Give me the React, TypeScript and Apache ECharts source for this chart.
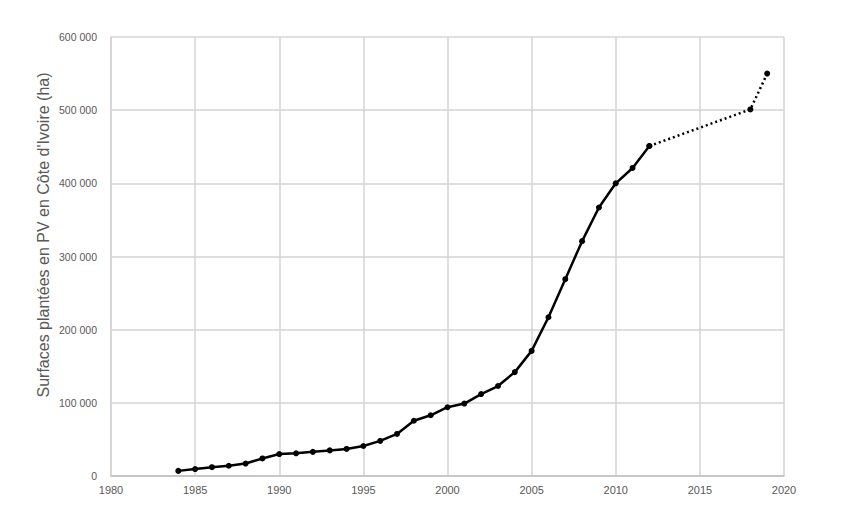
import React, { useEffect, useRef } from "react";
import * as echarts from "echarts";

const years = [1984, 1985, 1986, 1987, 1988, 1989, 1990, 1991, 1992, 1993, 1994, 1995, 1996, 1997, 1998, 1999, 2000, 2001, 2002, 2003, 2004, 2005, 2006, 2007, 2008, 2009, 2010, 2011, 2012];
const surfaces = [7000, 9500, 12000, 14000, 17000, 24000, 30000, 31000, 33000, 35000, 37000, 41000, 48000, 57500, 75500, 83000, 94000, 99000, 112000, 123000, 142000, 171000, 217000, 269000, 321000, 367000, 400000, 421000, 451000];
const projYears = [2012, 2018, 2019];
const projSurfaces = [451000, 501000, 550000];
const yAxisTitle = "Surfaces plantées en PV en Côte d'Ivoire (ha)";

const fmt = (v: number) => {
  if (v === 0) return "0";
  const s = String(v);
  return s.replace(/\B(?=(\d{3})+(?!\d))/g, " ");
};

export default function App() {
  const ref = useRef<HTMLDivElement>(null);
  useEffect(() => {
    if (!ref.current) return;
    const chart = echarts.init(ref.current, undefined, { renderer: "svg" });
    const font = "'Liberation Sans', Arial, sans-serif";
    chart.setOption({
      animation: false,
      backgroundColor: "#ffffff",
      grid: { left: 111, right: 61, top: 37, bottom: 33, containLabel: false },
      xAxis: {
        type: "value",
        min: 1980,
        max: 2020,
        interval: 5,
        axisLine: { show: true, lineStyle: { color: "#bfbfbf", width: 1.5 } },
        axisTick: { show: false },
        splitLine: { show: true, lineStyle: { color: "#d4d4d4", width: 1.5 } },
        axisLabel: { color: "#595959", fontSize: 11, fontFamily: font, margin: 8, formatter: (v: number) => String(v) },
      },
      yAxis: {
        type: "value",
        min: 0,
        max: 600000,
        interval: 100000,
        axisLine: { show: true, lineStyle: { color: "#d4d4d4", width: 1.5 } },
        axisTick: { show: false },
        splitLine: { show: true, lineStyle: { color: "#d4d4d4", width: 1.5 } },
        axisLabel: { color: "#595959", fontSize: 10.5, fontFamily: font, margin: 14, formatter: (v: number) => fmt(v) },
      },
      graphic: [
        {
          type: "text",
          x: 43,
          y: 235,
          rotation: Math.PI / 2,
          style: {
            text: yAxisTitle,
            fill: "#595959",
            fontSize: 16,
            fontFamily: font,
            textAlign: "center",
            textVerticalAlign: "middle",
          },
        },
      ],
      series: [
        {
          type: "line",
          data: years.map((y, i) => [y, surfaces[i]]),
          symbol: "circle",
          symbolSize: 6,
          itemStyle: { color: "#000000" },
          lineStyle: { color: "#000000", width: 2.5 },
          z: 3,
        },
        {
          type: "line",
          data: projYears.map((y, i) => [y, projSurfaces[i]]),
          symbol: "circle",
          symbolSize: 6,
          itemStyle: { color: "#000000" },
          lineStyle: { color: "#000000", width: 2.5, type: [2, 3] },
          z: 2,
        },
      ],
    });
    return () => chart.dispose();
  }, []);
  return <div ref={ref} style={{ position: "absolute", left: 0, top: 0, width: 845, height: 509 }} />;
}
